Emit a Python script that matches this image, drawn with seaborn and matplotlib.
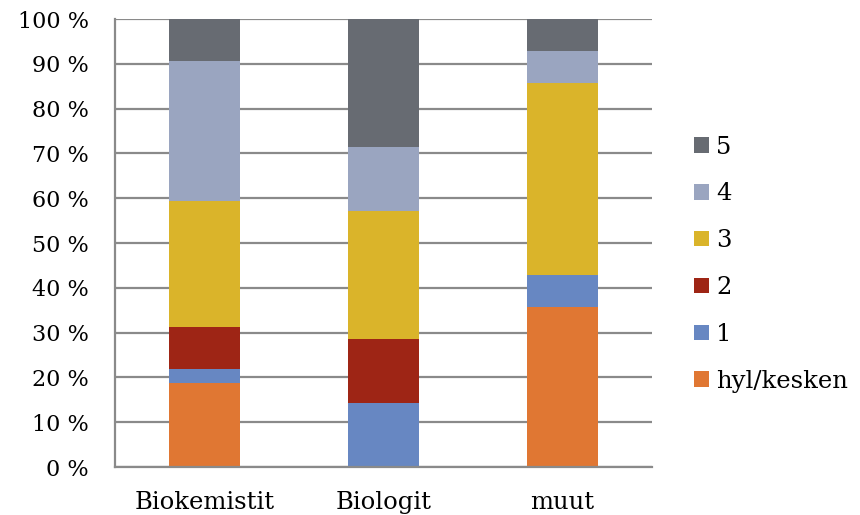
import numpy as np
import pandas as pd
import matplotlib
matplotlib.use("Agg")
import matplotlib.pyplot as plt
import seaborn as sns

# Data (percent of each group)
groups = ["Biokemistit", "Biologit", "muut"]
levels = ["hyl/kesken", "1", "2", "3", "4", "5"]
hyl_kesken = [18.75, 0.0, 35.71]
grade_1 = [3.13, 14.29, 7.14]
grade_2 = [9.38, 14.29, 0.0]
grade_3 = [28.13, 28.57, 42.86]
grade_4 = [31.25, 14.29, 7.14]
grade_5 = [9.38, 28.57, 7.14]
colors = ["#E07733", "#6787C2", "#9E2515", "#DAB42A", "#9AA5C0", "#676B72"]

series = [hyl_kesken, grade_1, grade_2, grade_3, grade_4, grade_5]

sns.set_style("white")
plt.rcParams["font.family"] = ["DejaVu Serif"]
plt.rcParams["text.color"] = "black"
plt.rcParams["xtick.color"] = "black"
plt.rcParams["ytick.color"] = "black"

fig = plt.figure(figsize=(8.6, 5.15), dpi=100)
ax = fig.add_axes([0.1337, 0.0932, 0.758 - 0.1337, 0.963 - 0.0932])

# horizontal gridlines
for y in np.arange(0, 101, 10):
    ax.axhline(y, color="#8a8a8a", lw=1.6, zorder=0)

bottom = np.zeros(len(groups))
for name, vals, col in zip(levels, series, colors):
    df = pd.DataFrame({"group": groups, "value": vals})
    sns.barplot(data=df, x="group", y="value", color=col, width=0.4,
                bottom=bottom, label=name, ax=ax, zorder=2,
                linewidth=0, saturation=1)
    bottom = bottom + np.array(vals)

ax.set_xlim(-0.5, 2.5)
ax.set_ylim(0, 100)
ax.set_yticks(np.arange(0, 101, 10))
ax.set_yticklabels([f"{v} %" for v in range(0, 101, 10)], fontsize=16)
ax.set_xticks([0, 1, 2])
ax.set_xticklabels(groups, fontsize=17.5)
ax.set_xticks([-0.5, 0.5, 1.5, 2.5], minor=True)
ax.tick_params(axis="x", which="major", length=0, pad=17)
ax.tick_params(axis="x", which="minor", length=7, width=1.6, color="#8a8a8a")
ax.tick_params(axis="y", length=8, width=1.6, color="#8a8a8a", pad=11)
ax.set_xlabel("")
ax.set_ylabel("")

for s in ["top", "right"]:
    ax.spines[s].set_visible(False)
for s in ["left", "bottom"]:
    ax.spines[s].set_color("#8a8a8a")
    ax.spines[s].set_linewidth(1.6)

handles, labels = ax.get_legend_handles_labels()
leg = ax.legend(handles[::-1], labels[::-1], loc="center left",
                bbox_to_anchor=(0.807, 0.487), bbox_transform=fig.transFigure,
                frameon=False, fontsize=17.5, handlelength=0.6,
                handleheight=0.6, handletextpad=0.32, labelspacing=0.98,
                borderaxespad=0, borderpad=0)

fig.savefig("out.png", dpi=100)
